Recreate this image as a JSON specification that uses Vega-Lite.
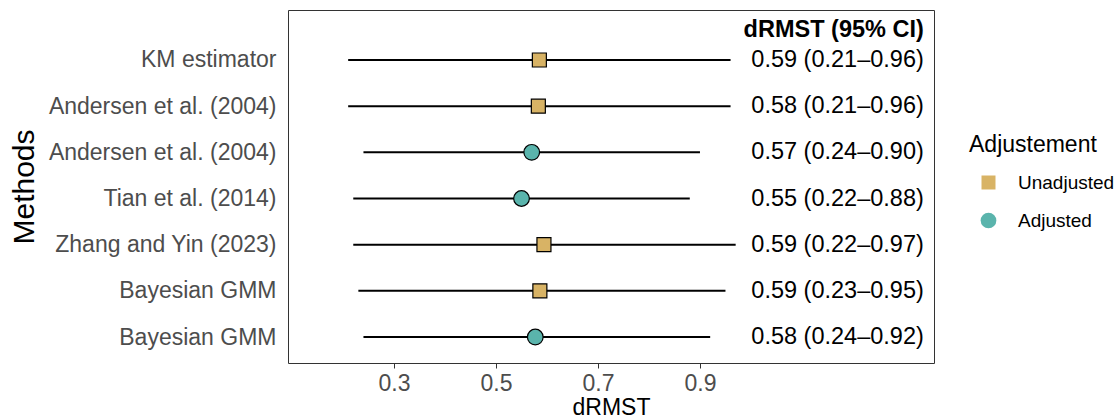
{
  "$schema": "https://vega.github.io/schema/vega-lite/v6.json",
  "autosize": {"type": "none"},
  "padding": {"left": 288, "top": 10, "right": 181, "bottom": 57},
  "width": 646,
  "height": 353,
  "config": {
    "font": "Liberation Sans",
    "view": {"stroke": "#333333", "strokeWidth": 1},
    "axis": {"grid": false, "domain": false, "labelLimit": 400},
    "legend": {
      "orient": "none",
      "legendX": 681,
      "legendY": 124,
      "titleFontSize": 23,
      "titleColor": "black",
      "titleFontWeight": "normal",
      "titlePadding": 16,
      "labelFontSize": 19,
      "labelColor": "black",
      "labelLimit": 300,
      "symbolStrokeColor": "black",
      "symbolStrokeWidth": 1.2,
      "symbolOffset": 10,
      "labelOffset": 20,
      "rowPadding": 17
    }
  },
  "data": {
    "values": [
      {"r": 7, "method": "KM estimator", "adj": "Unadjusted", "est": 0.585, "lo": 0.21, "hi": 0.96, "label": "0.59 (0.21–0.96)"},
      {"r": 6, "method": "Andersen et al. (2004)", "adj": "Unadjusted", "est": 0.583, "lo": 0.21, "hi": 0.96, "label": "0.58 (0.21–0.96)"},
      {"r": 5, "method": "Andersen et al. (2004)", "adj": "Adjusted", "est": 0.57, "lo": 0.24, "hi": 0.90, "label": "0.57 (0.24–0.90)"},
      {"r": 4, "method": "Tian et al. (2014)", "adj": "Adjusted", "est": 0.55, "lo": 0.22, "hi": 0.88, "label": "0.55 (0.22–0.88)"},
      {"r": 3, "method": "Zhang and Yin (2023)", "adj": "Unadjusted", "est": 0.594, "lo": 0.22, "hi": 0.97, "label": "0.59 (0.22–0.97)"},
      {"r": 2, "method": "Bayesian GMM", "adj": "Unadjusted", "est": 0.586, "lo": 0.23, "hi": 0.95, "label": "0.59 (0.23–0.95)"},
      {"r": 1, "method": "Bayesian GMM", "adj": "Adjusted", "est": 0.577, "lo": 0.24, "hi": 0.92, "label": "0.58 (0.24–0.92)"}
    ]
  },
  "layer": [
    {
      "mark": {"type": "rule", "color": "black", "strokeWidth": 2},
      "encoding": {
        "x": {
          "field": "lo", "type": "quantitative",
          "scale": {"domain": [0.092, 1.359], "nice": false, "zero": false},
          "axis": {
            "values": [0.3, 0.5, 0.7, 0.9], "format": ".1f",
            "labelFontSize": 23, "labelColor": "#4D4D4D",
            "tickColor": "#333333", "tickSize": 5, "tickWidth": 1,
            "labelPadding": 4,
            "title": "dRMST", "titleFontSize": 23, "titleColor": "black",
            "titleFontWeight": "normal", "titlePadding": 1
          }
        },
        "x2": {"field": "hi"},
        "y": {
          "field": "r", "type": "quantitative",
          "scale": {"domain": [0.437, 8.083], "nice": false, "zero": false},
          "axis": {
            "values": [1, 2, 3, 4, 5, 6, 7],
            "ticks": false, "labelPadding": 12,
            "labelFontSize": 23, "labelColor": "#4D4D4D",
            "labelExpr": "datum.value == 7 ? 'KM estimator' : datum.value == 6 ? 'Andersen et al. (2004)' : datum.value == 5 ? 'Andersen et al. (2004)' : datum.value == 4 ? 'Tian et al. (2014)' : datum.value == 3 ? 'Zhang and Yin (2023)' : 'Bayesian GMM'",
            "title": "Methods", "titleFontSize": 30, "titleColor": "black",
            "titleFontWeight": "normal",
            "titleX": -255, "titleY": 176.5, "titleAngle": -90,
            "titleAlign": "center", "titleBaseline": "alphabetic"
          }
        }
      }
    },
    {
      "mark": {"type": "point", "filled": false, "strokeWidth": 1.2, "opacity": 1, "fillOpacity": 1, "strokeOpacity": 1},
      "encoding": {
        "x": {"field": "est", "type": "quantitative"},
        "y": {"field": "r", "type": "quantitative"},
        "stroke": {"value": "black"},
        "fill": {"field": "adj", "type": "nominal", "title": "Adjustement",
          "scale": {"domain": ["Unadjusted", "Adjusted"], "range": ["#d8b365", "#5ab4ac"]},
          "legend": {"encode": {"symbols": {"enter": {"stroke": {"value": "black"}, "strokeWidth": {"value": 1.2}}, "update": {"stroke": {"value": "black"}, "strokeWidth": {"value": 1.2}, "strokeOpacity": {"value": 1}}}}}},
        "shape": {"field": "adj", "type": "nominal", "title": "Adjustement",
          "scale": {"domain": ["Unadjusted", "Adjusted"], "range": ["square", "circle"]},
          "legend": {"encode": {"symbols": {"enter": {"stroke": {"value": "black"}, "strokeWidth": {"value": 1.2}}, "update": {"stroke": {"value": "black"}, "strokeWidth": {"value": 1.2}, "strokeOpacity": {"value": 1}}}}}},
        "size": {"field": "adj", "type": "nominal", "title": "Adjustement",
          "scale": {"domain": ["Unadjusted", "Adjusted"], "range": [196, 246]},
          "legend": {"encode": {"symbols": {"enter": {"stroke": {"value": "black"}, "strokeWidth": {"value": 1.2}}, "update": {"stroke": {"value": "black"}, "strokeWidth": {"value": 1.2}, "strokeOpacity": {"value": 1}}}}}}
      }
    },
    {
      "mark": {"type": "text", "align": "right", "baseline": "middle", "fontSize": 23.5, "color": "black"},
      "encoding": {
        "x": {"datum": 1.339},
        "y": {"field": "r", "type": "quantitative"},
        "text": {"field": "label"}
      }
    },
    {
      "data": {"values": [{"h": "dRMST (95% CI)"}]},
      "mark": {"type": "text", "align": "right", "baseline": "middle", "fontSize": 23.5, "fontWeight": "bold", "color": "black"},
      "encoding": {
        "x": {"datum": 1.339},
        "y": {"datum": 7.65},
        "text": {"field": "h"}
      }
    }
  ]
}
